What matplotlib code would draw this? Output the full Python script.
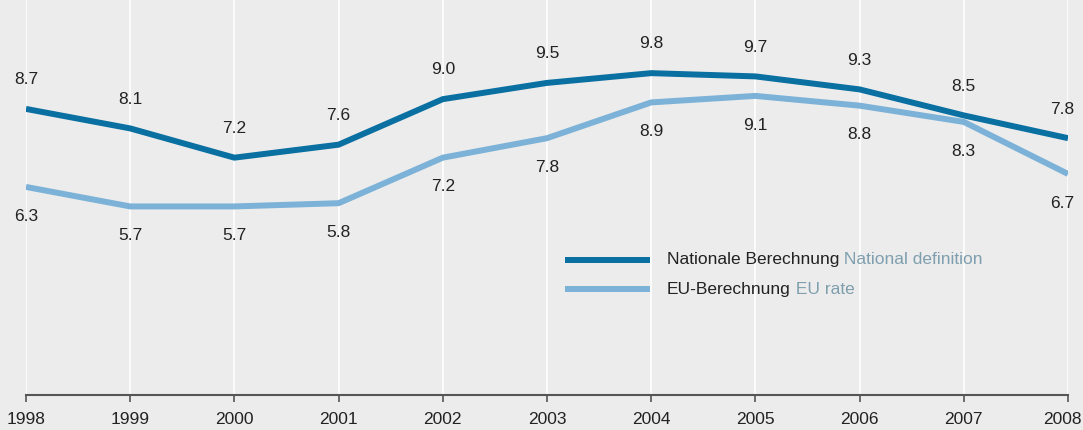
import matplotlib
matplotlib.use("Agg")
import matplotlib.pyplot as plt
import matplotlib.transforms as mtransforms

years = [1998, 1999, 2000, 2001, 2002, 2003, 2004, 2005, 2006, 2007, 2008]
national = [8.7, 8.1, 7.2, 7.6, 9.0, 9.5, 9.8, 9.7, 9.3, 8.5, 7.8]
eu_rate = [6.3, 5.7, 5.7, 5.8, 7.2, 7.8, 8.9, 9.1, 8.8, 8.3, 6.7]

bg = "#ececec"
dark = "#0a6fa1"
light = "#7cb2d7"
gray_txt = "#7f9fae"

plt.rcParams["font.family"] = ["Liberation Sans", "DejaVu Sans"]

fig = plt.figure(figsize=(10.83, 4.3), dpi=100, facecolor=bg)
ax = fig.add_axes([26 / 1083, 35 / 430, 1042 / 1083, 395 / 430])
ax.set_facecolor(bg)

for yr in years:
    ax.axvline(yr, color="white", lw=1.2, zorder=1)

ax.plot(years, national, color=dark, lw=4.3, zorder=3, solid_capstyle="butt")
ax.plot(years, eu_rate, color=light, lw=4.3, zorder=2, solid_capstyle="butt")

last = years[-1]
for x, v in zip(years, national):
    dx = -4 if x == last else 0
    ax.annotate(f"{v:.1f}", (x, v), xytext=(dx, 21), textcoords="offset points",
                ha="center", va="center", fontsize=12.5, color="#222222")
for x, v in zip(years, eu_rate):
    dx = -4 if x == last else 0
    ax.annotate(f"{v:.1f}", (x, v), xytext=(dx, -21), textcoords="offset points",
                ha="center", va="center", fontsize=12.5, color="#222222")

# legend drawn by hand
ax.plot([0.517, 0.599], [0.342, 0.342], transform=ax.transAxes, color=dark, lw=4.3, solid_capstyle="butt")
ax.plot([0.517, 0.599], [0.268, 0.268], transform=ax.transAxes, color=light, lw=4.3, solid_capstyle="butt")
t1 = ax.text(0.615, 0.342, "Nationale Berechnung", transform=ax.transAxes, va="center", fontsize=12.5, color="#222222")
ax.annotate(" National definition", xy=(1, 0), xycoords=t1, va="bottom", fontsize=12.5, color=gray_txt)
t2 = ax.text(0.615, 0.268, "EU-Berechnung", transform=ax.transAxes, va="center", fontsize=12.5, color="#222222")
ax.annotate(" EU rate", xy=(1, 0), xycoords=t2, va="bottom", fontsize=12.5, color=gray_txt)

ax.set_xlim(1998, 2008)
ax.set_ylim(-0.1, 12.05)
ax.set_xticks(years)
ax.set_yticks([])
for s in ["top", "right", "left"]:
    ax.spines[s].set_visible(False)
ax.spines["bottom"].set_color("#555555")
ax.spines["bottom"].set_linewidth(1.5)
ax.spines["bottom"].set_zorder(4)
ax.tick_params(axis="x", length=5, width=1.2, color="#555555", labelsize=12.5, labelcolor="#222222", pad=7)

lab = ax.get_xticklabels()[-1]
lab.set_transform(lab.get_transform() + mtransforms.ScaledTranslation(-6 / 100, 0, fig.dpi_scale_trans))

fig.savefig("out.png", dpi=100, facecolor=bg)
